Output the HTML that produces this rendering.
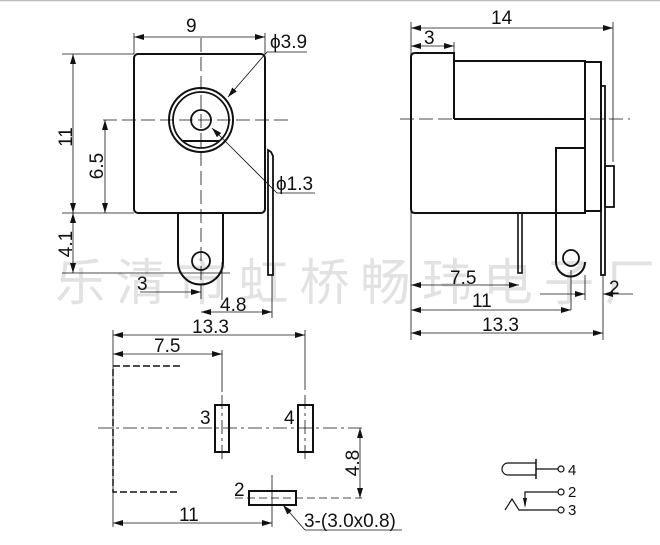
<!DOCTYPE html>
<html><head><meta charset="utf-8"><style>
html,body{margin:0;padding:0;background:#fff;}
svg{display:block;}
text{font-family:"Liberation Sans",Arial,sans-serif;fill:#111;}
.wm{font-family:"Noto Sans CJK SC","WenQuanYi Zen Hei",sans-serif;fill:#e2e2e2;font-size:50px;}
</style></head><body>
<svg width="660" height="545" viewBox="0 0 660 545" xmlns="http://www.w3.org/2000/svg">
<defs>
<marker id="a" viewBox="0 0 10 6" refX="10" refY="3" markerWidth="10" markerHeight="6" orient="auto-start-reverse" markerUnits="userSpaceOnUse"><path d="M0,0 L10,3 L0,6 z" fill="#111"/></marker>
</defs>
<line x1="0" y1="0.5" x2="660" y2="0.5" stroke="#bbb" stroke-width="1.5"/>
<text class="wm" x="55" y="300" textLength="600" lengthAdjust="spacing">乐清市虹桥畅玮电子厂</text>

<g stroke="#111" fill="none" stroke-width="0.8">
<rect x="134" y="54" width="131" height="159" rx="4" stroke-width="2"/>
<circle cx="201" cy="120" r="32" stroke-width="2"/>
<circle cx="201" cy="120" r="28" stroke-width="1.8"/>
<circle cx="201" cy="120" r="10" stroke-width="1.8"/>
<line x1="183" y1="141" x2="219" y2="141" stroke-width="2"/>
<path d="M178,213 V262 A22,22 0 0 0 223,262 V213" stroke-width="2"/>
<circle cx="201" cy="261" r="9" stroke-width="1.8"/>
<path d="M268,213 V150 Q268,150 271,152 L273,156 V275 H268 Z" stroke-width="1.8"/>
<line x1="103" y1="120" x2="290" y2="120" stroke-dasharray="14,5"/>
<line x1="201" y1="38" x2="201" y2="300" stroke-dasharray="14,5"/>
<line x1="134" y1="33" x2="134" y2="54"/><line x1="265" y1="33" x2="265" y2="54"/>
<line x1="134" y1="37" x2="265" y2="37" marker-start="url(#a)" marker-end="url(#a)"/>
<line x1="228" y1="97" x2="267" y2="52" marker-start="url(#a)"/><line x1="267" y1="52" x2="307" y2="52"/>
<line x1="212" y1="128" x2="277" y2="193" marker-start="url(#a)"/><line x1="277" y1="193" x2="315" y2="193"/>
<line x1="62" y1="54" x2="134" y2="54"/><line x1="62" y1="213" x2="134" y2="213"/><line x1="62" y1="273" x2="230" y2="273"/>
<line x1="73" y1="54" x2="73" y2="213" marker-start="url(#a)" marker-end="url(#a)"/>
<line x1="73" y1="213" x2="73" y2="273" marker-start="url(#a)" marker-end="url(#a)"/>
<line x1="105" y1="120" x2="105" y2="213" marker-start="url(#a)" marker-end="url(#a)"/>
<line x1="140" y1="292" x2="201" y2="292" marker-end="url(#a)"/>
<line x1="222" y1="262" x2="222" y2="300"/><line x1="272" y1="275" x2="272" y2="318"/>
<line x1="201" y1="312" x2="272" y2="312" marker-start="url(#a)" marker-end="url(#a)"/>

<path d="M454,53 H415 Q411,53 411,57 V209 Q411,213 415,213 H585 V61 H454 Z" stroke-width="2"/>
<line x1="454" y1="53" x2="454" y2="119" stroke-width="2"/>
<line x1="454" y1="119" x2="585" y2="119" stroke-width="2"/>
<rect x="585" y="62" width="16" height="149" stroke-width="2"/>
<rect x="601" y="86" width="4" height="189" stroke-width="1.8"/>
<rect x="605" y="166" width="9" height="41" stroke-width="1.8"/>
<path d="M585,148 H556 V262 A14.5,14.5 0 0 0 585,262" stroke-width="2"/>
<circle cx="571" cy="258" r="8" stroke-width="1.8"/>
<rect x="518" y="213" width="4" height="60" stroke-width="1.6"/>
<line x1="400" y1="119" x2="630" y2="119" stroke-dasharray="14,5"/>
<line x1="411" y1="22" x2="411" y2="340"/><line x1="613" y1="22" x2="613" y2="162"/>
<line x1="454" y1="42" x2="454" y2="53"/>
<line x1="411" y1="28" x2="613" y2="28" marker-start="url(#a)" marker-end="url(#a)"/>
<line x1="411" y1="46" x2="454" y2="46" marker-start="url(#a)" marker-end="url(#a)"/>
<line x1="411" y1="285" x2="519" y2="285" marker-start="url(#a)" marker-end="url(#a)"/>
<line x1="571" y1="270" x2="571" y2="310"/>
<line x1="411" y1="310" x2="571" y2="310" marker-start="url(#a)" marker-end="url(#a)"/>
<line x1="585" y1="275" x2="585" y2="300"/><line x1="603" y1="275" x2="603" y2="340"/>
<line x1="540" y1="294" x2="585" y2="294" marker-end="url(#a)"/>
<line x1="633" y1="294" x2="603" y2="294" marker-end="url(#a)"/>
<line x1="411" y1="333" x2="603" y2="333" marker-start="url(#a)" marker-end="url(#a)"/>

<line x1="113" y1="330" x2="113" y2="527"/><line x1="222" y1="350" x2="222" y2="392"/><line x1="305" y1="330" x2="305" y2="390"/>
<line x1="113" y1="335" x2="305" y2="335" marker-start="url(#a)" marker-end="url(#a)"/>
<line x1="113" y1="354" x2="222" y2="354" marker-start="url(#a)" marker-end="url(#a)"/>
<path d="M180,366 H113 V492 H180" stroke-dasharray="7,3" stroke-width="1.5"/>
<line x1="98" y1="428" x2="362" y2="428" stroke-dasharray="14,4,3,4"/>
<rect x="215" y="405" width="14" height="47" stroke-width="2"/>
<rect x="298" y="405" width="15" height="47" stroke-width="2"/>
<line x1="222" y1="395" x2="222" y2="462" stroke-dasharray="14,4,3,4"/>
<line x1="305" y1="395" x2="305" y2="462" stroke-dasharray="14,4,3,4"/>
<rect x="249" y="491" width="47" height="14" stroke-width="2"/>
<line x1="272" y1="475" x2="272" y2="527"/>
<line x1="235" y1="498" x2="362" y2="498" stroke-dasharray="8,4"/>
<line x1="360" y1="428" x2="360" y2="498" marker-start="url(#a)" marker-end="url(#a)"/>
<line x1="113" y1="523" x2="272" y2="523" marker-start="url(#a)" marker-end="url(#a)"/>
<line x1="283" y1="505" x2="305" y2="530" marker-start="url(#a)"/><line x1="305" y1="530" x2="402" y2="530"/>

<path d="M536,463 H508 A6,6 0 0 0 508,475 H536" stroke-width="1.2"/>
<line x1="536" y1="459" x2="536" y2="479" stroke-width="1.5"/>
<line x1="536" y1="469" x2="558" y2="469" stroke-width="1.2"/>
<circle cx="561" cy="469" r="3" stroke-width="1.2"/>
<path d="M525,505 V492 H558" stroke-width="1.2"/>
<circle cx="561" cy="492" r="3" stroke-width="1.2"/>
<path d="M505,510 L512,499 L519,510 H558" stroke-width="1.2"/>
<circle cx="561" cy="510" r="3" stroke-width="1.2"/>
</g>
<path d="M523,498 L527,498 L525,508 z" fill="#111"/>

<g font-size="19">
<text x="186" y="32">9</text>
<text x="270" y="48">ϕ3.9</text>
<text x="276" y="190">ϕ1.3</text>
<text transform="translate(72,137) rotate(-90)" text-anchor="middle">11</text>
<text transform="translate(103,166) rotate(-90)" text-anchor="middle">6.5</text>
<text transform="translate(72,244) rotate(-90)" text-anchor="middle">4.1</text>
<text x="137" y="290">3</text>
<text x="220" y="311">4.8</text>
<text x="491" y="24">14</text>
<text x="424" y="44">3</text>
<text x="450" y="284">7.5</text>
<text x="472" y="307">11</text>
<text x="482" y="331">13.3</text>
<text x="609" y="294">2</text>
<text x="192" y="333">13.3</text>
<text x="154" y="352">7.5</text>
<text x="200" y="424">3</text>
<text x="284" y="424">4</text>
<text x="234" y="496">2</text>
<text transform="translate(359,463) rotate(-90)" text-anchor="middle">4.8</text>
<text x="179" y="521">11</text>
<text x="304" y="527">3-(3.0x0.8)</text>
<text x="568" y="475" font-size="15">4</text>
<text x="568" y="497" font-size="15">2</text>
<text x="568" y="515" font-size="15">3</text>
</g>
</svg>
</body></html>
